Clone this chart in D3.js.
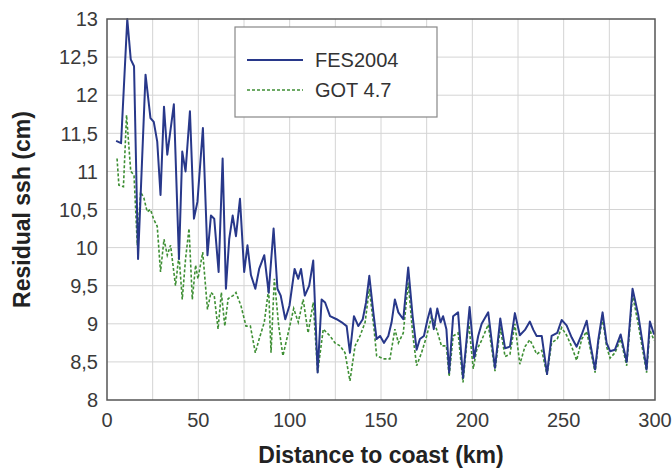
<!DOCTYPE html>
<html>
<head>
<meta charset="utf-8">
<script src="https://d3js.org/d3.v7.min.js"></script>
<style>
  body { margin: 0; background: #fff; }
  .grid line { stroke: #d4d4d4; stroke-width: 1; }
  .tick-label { font-family: 'Liberation Sans', Arial, sans-serif; font-size: 20px; fill: #3a3a3a; }
  .axis-title { font-family: 'Liberation Sans', Arial, sans-serif; font-size: 23px; font-weight: bold; fill: #222; }
  .legend text { font-family: 'Liberation Sans', Arial, sans-serif; font-size: 20px; fill: #333; }
</style>
</head>
<body>
<script>
// FES2004 residual ssh (cm) vs distance to coast (km)
var fesKm = [5, 7.7, 11.1, 13, 14.8, 17, 21.1, 23.8, 25.6, 27.5, 29.3, 31.2, 33, 36.6, 39.4, 41.2, 43, 45.4, 47.6, 49.5,
  52.5, 55, 56.9, 58.7, 61.1, 63.3, 65.1, 66.9, 68.8, 70.6, 72.8, 75.1, 76.9, 78.8, 81.2, 83.3, 86.1, 88.5, 91.2, 93.3,
  95.1, 97.6, 99.9, 102.7, 104.7, 106.2, 108.3, 110.7, 112.9, 115.3, 117.5, 119.4, 122.1, 125.7, 128.5, 131.2, 133, 135.2, 137.6, 140,
  141.8, 143.6, 145.8, 147.6, 149.5, 151.6, 154, 155.8, 157.6, 159.5, 162.2, 164.9, 167.3, 169.5, 171.3, 173.5, 175.5, 177.1, 178.9, 180.8,
  182.6, 184, 185.8, 187.3, 189.5, 192.2, 194.9, 198.5, 201, 203.2, 205.1, 208.7, 212.4, 215.3, 217.9, 220.6, 223.3, 226, 228.8, 231.5,
  233.4, 235.2, 238, 240.9, 243.4, 246.5, 248.9, 251.6, 254.4, 257.1, 259.9, 262.6, 264.5, 267.2, 269, 271.3, 273.5, 275.4, 278.1, 281.2,
  284.5, 287.7, 290.8, 293.5, 295.4, 297.2, 299.5];
var fesSsh = [11.4, 11.37, 13.0, 12.47, 12.38, 9.85, 12.27, 11.7, 11.65, 11.39, 10.69, 11.85, 11.22, 11.88, 9.85, 11.26, 11.0, 11.79, 10.38, 10.6,
  11.57, 9.9, 10.42, 10.38, 9.68, 11.17, 9.46, 10.11, 10.42, 10.15, 10.64, 9.68, 10.03, 9.64, 9.46, 9.72, 9.9, 9.41, 10.25, 9.46,
  9.37, 9.06, 9.24, 9.72, 9.59, 9.72, 9.37, 9.5, 9.83, 8.36, 9.32, 9.28, 9.1, 9.06, 9.02, 8.97, 8.62, 9.1, 8.97, 9.06,
  9.28, 9.63, 9.15, 8.8, 8.84, 8.75, 8.84, 9.02, 9.32, 9.15, 9.06, 9.74, 9.1, 8.66, 8.8, 8.84, 9.06, 9.2, 8.93, 9.2,
  9.02, 9.1, 8.93, 8.36, 9.1, 9.15, 8.29, 9.22, 8.55, 8.84, 9.0, 9.15, 8.42, 9.07, 8.68, 8.7, 9.14, 8.85, 8.92, 9.03,
  8.92, 8.84, 8.84, 8.34, 8.84, 8.88, 9.05, 8.98, 8.82, 8.7, 8.86, 9.04, 8.75, 8.4, 8.8, 9.15, 8.75, 8.64, 8.66, 8.86,
  8.5, 9.46, 9.12, 8.7, 8.4, 9.03, 8.86];

// GOT 4.7 residual ssh (cm)
var gotKm = [5.5, 6.5, 9, 10.7, 13, 14.8, 16.6, 18.4, 20.2, 22, 23.8, 25.6, 27.5, 29.3, 31.2, 33, 34.8, 37.5, 39.4, 41.2,
  43, 44.9, 46.7, 48.5, 49.8, 52.4, 55, 56.9, 58.7, 60.8, 62.6, 64.5, 66.3, 69, 70.6, 73.3, 76.1, 78.5, 81.2, 83.3,
  86.1, 88.5, 89.8, 91.6, 94, 96.3, 99, 102.2, 104.7, 107.4, 110.1, 112.9, 115.3, 118.4, 122.1, 124.8, 127.6, 130.3, 133, 135.8,
  138.5, 141.3, 143.6, 146.2, 147.6, 151.3, 154.9, 157.6, 159.5, 162.2, 164.9, 167.3, 169.5, 172.2, 175, 177.7, 180.4, 183.1, 185.8, 187.3,
  189.5, 192.2, 194.9, 198, 200.5, 202.3, 205, 208.7, 212.4, 215.3, 217.9, 220.6, 223.3, 226, 228.8, 231.5, 233.4, 235.2, 238, 240.9,
  243.4, 246.5, 248.9, 251.6, 254.4, 257.1, 259.9, 262.6, 264.5, 267.2, 269, 271.3, 273.5, 275.4, 278.1, 281.2, 284.5, 287.7, 290.8, 293.5,
  295.4, 297.2, 299.5];
var gotSsh = [11.17, 10.82, 10.8, 11.74, 11.0, 10.95, 10.03, 10.73, 10.65, 10.47, 10.5, 10.37, 10.28, 9.68, 10.11, 9.9, 10.03, 9.5, 9.9, 9.32,
  9.85, 10.25, 9.32, 9.77, 9.59, 9.94, 9.19, 9.41, 9.37, 8.93, 9.41, 8.97, 9.33, 9.37, 9.41, 9.24, 8.97, 8.97, 8.62, 8.8,
  9.02, 9.46, 8.62, 9.59, 8.97, 8.58, 8.86, 9.2, 9.02, 9.32, 8.88, 9.28, 8.36, 8.93, 8.84, 8.75, 8.71, 8.62, 8.25, 8.71,
  8.84, 9.02, 9.46, 8.93, 8.58, 8.54, 8.54, 8.93, 8.75, 8.88, 9.54, 8.88, 8.45, 8.62, 8.84, 9.1, 8.93, 8.71, 8.71, 8.31,
  8.84, 8.88, 8.23, 9.02, 8.41, 8.65, 8.78, 8.99, 8.38, 8.95, 8.57, 8.6, 9.0, 8.47, 8.7, 8.79, 8.7, 8.6, 8.65, 8.33,
  8.75, 8.8, 8.95, 8.85, 8.7, 8.52, 8.8, 8.9, 8.68, 8.36, 8.75, 9.07, 8.7, 8.55, 8.62, 8.8, 8.45, 9.38, 9.0, 8.62,
  8.36, 8.92, 8.78];

var xTicks = [0, 50, 100, 150, 200, 250, 300];
var yTicks = [8, 8.5, 9, 9.5, 10, 10.5, 11, 11.5, 12, 12.5, 13];
var seriesNames = ["FES2004", "GOT 4.7"];

var W = 672, H = 468;
var m = { top: 19, right: 17, bottom: 68, left: 107 };
var w = W - m.left - m.right,
    h = H - m.top - m.bottom;

var svg = d3.select("body").append("svg")
  .attr("width", W)
  .attr("height", H);

var g = svg.append("g")
  .attr("transform", `translate(${m.left}, ${m.top})`);

var x = d3.scaleLinear().domain([0, 300]).range([0, w]);
var y = d3.scaleLinear().domain([8, 13]).range([h, 0]);

// grid: every 25 km, every 0.5 cm
g.append("g").attr("class", "grid")
  .selectAll("line").data(d3.range(25, 300, 25)).enter().append("line")
  .attr("x1", d => x(d)).attr("x2", d => x(d))
  .attr("y1", 0).attr("y2", h);

g.append("g").attr("class", "grid")
  .selectAll("line").data(yTicks.slice(1, -1)).enter().append("line")
  .attr("y1", d => y(d)).attr("y2", d => y(d))
  .attr("x1", 0).attr("x2", w);

// tick labels
var fmt = d => String(d).replace(".", ",");

g.selectAll(".ylab").data(yTicks).enter().append("text")
  .attr("class", "tick-label")
  .attr("x", -9)
  .attr("y", d => y(d))
  .attr("dy", "0.36em")
  .attr("text-anchor", "end")
  .text(fmt);

g.selectAll(".xlab").data(xTicks).enter().append("text")
  .attr("class", "tick-label")
  .attr("x", d => x(d))
  .attr("y", h + 27)
  .attr("text-anchor", "middle")
  .text(d => d);

// axis titles
svg.append("text")
  .attr("class", "axis-title")
  .attr("x", m.left + w / 2)
  .attr("y", H - 5)
  .attr("text-anchor", "middle")
  .text("Distance to coast (km)");

svg.append("text")
  .attr("class", "axis-title")
  .attr("transform", `translate(30, ${m.top + h / 2}) rotate(-90)`)
  .attr("text-anchor", "middle")
  .text("Residual ssh (cm)");

// lines
var line = d3.line()
  .x(d => x(d[0]))
  .y(d => y(d[1]));

var gotData = d3.zip(gotKm, gotSsh);
var fesData = d3.zip(fesKm, fesSsh);

g.append("path")
  .datum(gotData)
  .attr("fill", "none")
  .attr("stroke", "#3e8f34")
  .attr("stroke-width", 1.6)
  .attr("stroke-dasharray", "3,2")
  .attr("d", line);

g.append("path")
  .datum(fesData)
  .attr("fill", "none")
  .attr("stroke", "#28388a")
  .attr("stroke-width", 2)
  .attr("stroke-linejoin", "round")
  .attr("d", line);

// frame
g.append("rect")
  .attr("width", w).attr("height", h)
  .attr("fill", "none")
  .attr("stroke", "#555")
  .attr("stroke-width", 1.5);

// legend
var leg = svg.append("g").attr("class", "legend")
  .attr("transform", "translate(235, 27)");

leg.append("rect")
  .attr("width", 202).attr("height", 90)
  .attr("fill", "#fff")
  .attr("stroke", "#888")
  .attr("stroke-width", 1.2);

var legStyles = [
  { color: "#28388a", dash: null, width: 2 },
  { color: "#3e8f34", dash: "3,2", width: 1.6 }
];

seriesNames.forEach((name, i) => {
  var yy = 33 + i * 30;
  leg.append("line")
    .attr("x1", 12).attr("x2", 68)
    .attr("y1", yy).attr("y2", yy)
    .attr("stroke", legStyles[i].color)
    .attr("stroke-width", legStyles[i].width)
    .attr("stroke-dasharray", legStyles[i].dash);
  leg.append("text")
    .attr("x", 80)
    .attr("y", yy)
    .attr("dy", "0.36em")
    .text(name);
});
</script>
</body>
</html>
